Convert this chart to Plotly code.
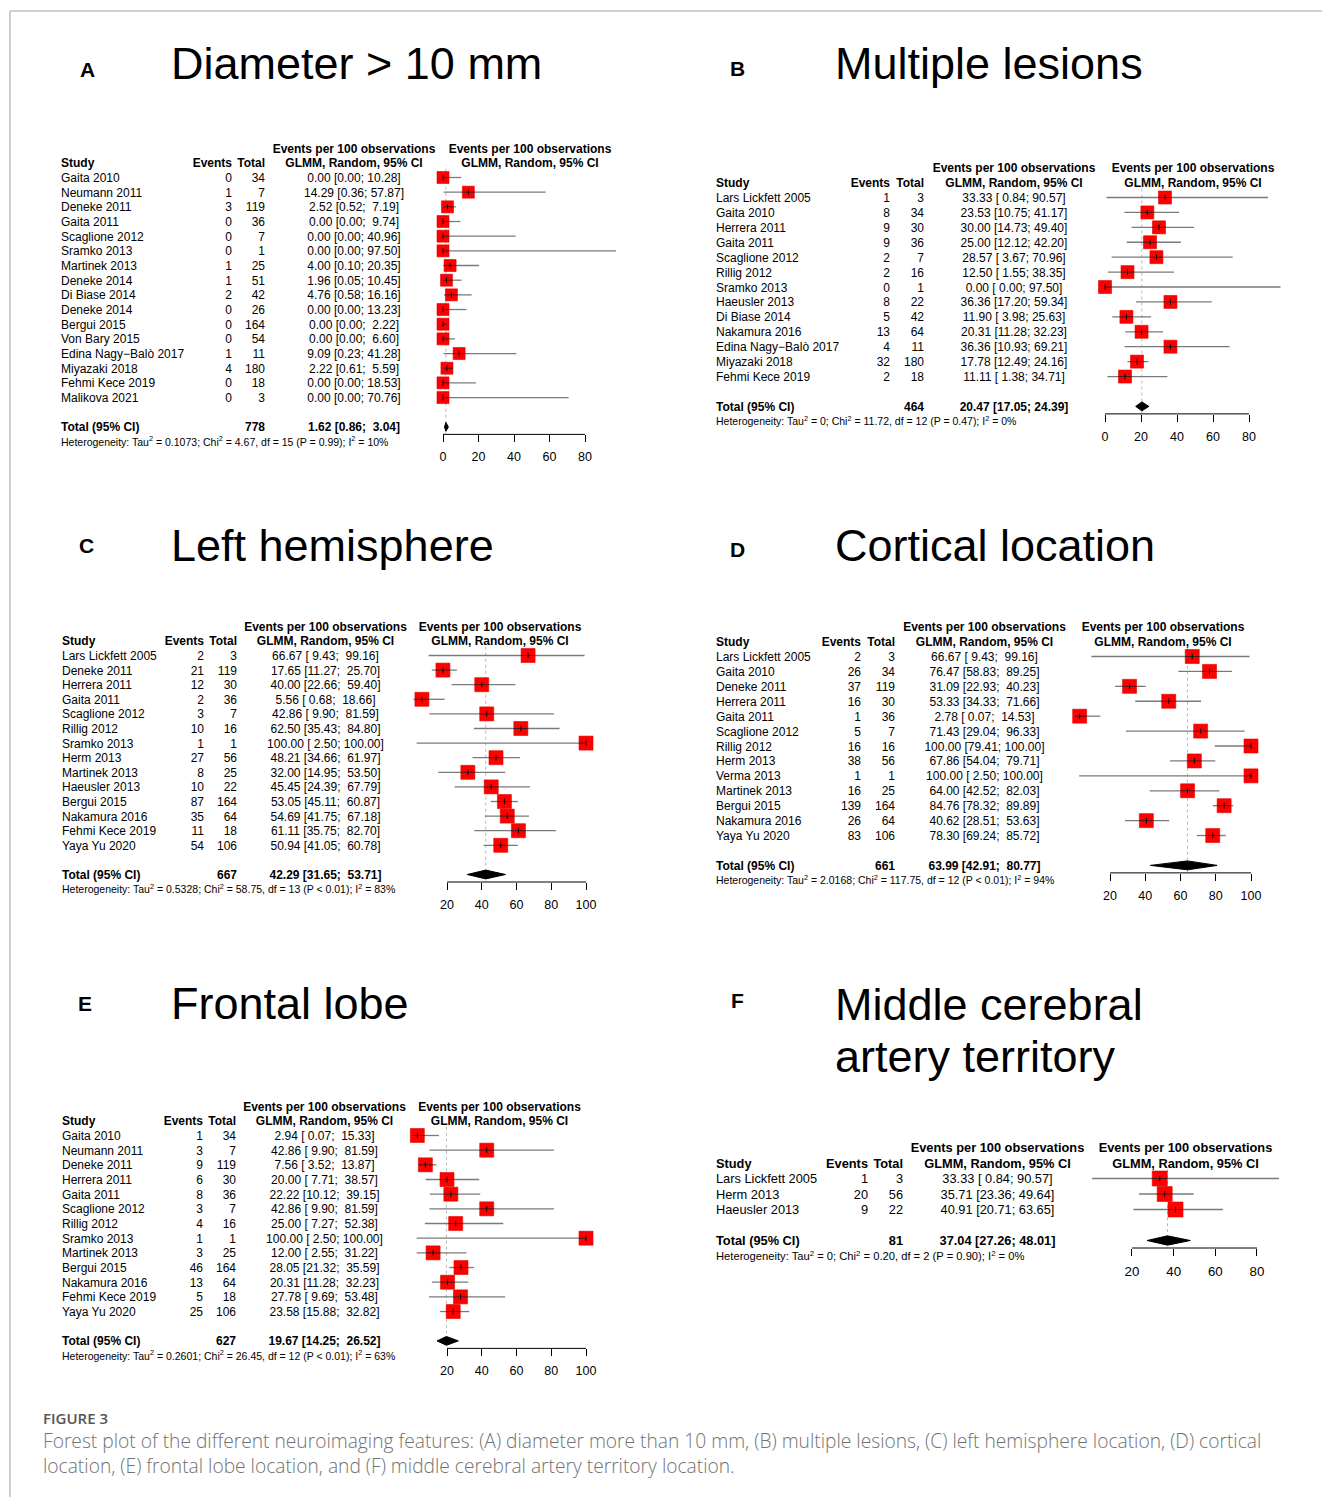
import plotly.graph_objects as go

W, H = 1322, 1497
NB = "\u00a0"
FONT = "Liberation Sans, Arial, Helvetica, sans-serif"

# ---------------- DATA ----------------
# Panel A - Diameter > 10 mm
A_title = ["Diameter > 10 mm"]
A_studies = ["Gaita 2010", "Neumann 2011", "Deneke 2011", "Gaita 2011", "Scaglione 2012", "Sramko 2013",
             "Martinek 2013", "Deneke 2014", "Di Biase 2014", "Deneke 2014", "Bergui 2015", "Von Bary 2015",
             "Edina Nagy\u2212Balò 2017", "Miyazaki 2018", "Fehmi Kece 2019", "Malikova 2021"]
A_events = [0, 1, 3, 0, 0, 0, 1, 1, 2, 0, 0, 0, 1, 4, 0, 0]
A_totals = [34, 7, 119, 36, 7, 1, 25, 51, 42, 26, 164, 54, 11, 180, 18, 3]
A_est = [0.00, 14.29, 2.52, 0.00, 0.00, 0.00, 4.00, 1.96, 4.76, 0.00, 0.00, 0.00, 9.09, 2.22, 0.00, 0.00]
A_lower = [0.00, 0.36, 0.52, 0.00, 0.00, 0.00, 0.10, 0.05, 0.58, 0.00, 0.00, 0.00, 0.23, 0.61, 0.00, 0.00]
A_upper = [10.28, 57.87, 7.19, 9.74, 40.96, 97.50, 20.35, 10.45, 16.16, 13.23, 2.22, 6.60, 41.28, 5.59, 18.53, 70.76]
A_pooled = [1.62, 0.86, 3.04]
A_n = 778
A_het = ["0.1073", "4.67", "15", "P = 0.99", "10"]
A_ticks = [0, 20, 40, 60, 80]

# Panel B - Multiple lesions
B_title = ["Multiple lesions"]
B_studies = ["Lars Lickfett 2005", "Gaita 2010", "Herrera 2011", "Gaita 2011", "Scaglione 2012", "Rillig 2012",
             "Sramko 2013", "Haeusler 2013", "Di Biase 2014", "Nakamura 2016", "Edina Nagy\u2212Balò 2017",
             "Miyazaki 2018", "Fehmi Kece 2019"]
B_events = [1, 8, 9, 9, 2, 2, 0, 8, 5, 13, 4, 32, 2]
B_totals = [3, 34, 30, 36, 7, 16, 1, 22, 42, 64, 11, 180, 18]
B_est = [33.33, 23.53, 30.00, 25.00, 28.57, 12.50, 0.00, 36.36, 11.90, 20.31, 36.36, 17.78, 11.11]
B_lower = [0.84, 10.75, 14.73, 12.12, 3.67, 1.55, 0.00, 17.20, 3.98, 11.28, 10.93, 12.49, 1.38]
B_upper = [90.57, 41.17, 49.40, 42.20, 70.96, 38.35, 97.50, 59.34, 25.63, 32.23, 69.21, 24.16, 34.71]
B_pooled = [20.47, 17.05, 24.39]
B_n = 464
B_het = ["0", "11.72", "12", "P = 0.47", "0"]
B_ticks = [0, 20, 40, 60, 80]

# Panel C - Left hemisphere
C_title = ["Left hemisphere"]
C_studies = ["Lars Lickfett 2005", "Deneke 2011", "Herrera 2011", "Gaita 2011", "Scaglione 2012", "Rillig 2012",
             "Sramko 2013", "Herm 2013", "Martinek 2013", "Haeusler 2013", "Bergui 2015", "Nakamura 2016",
             "Fehmi Kece 2019", "Yaya Yu 2020"]
C_events = [2, 21, 12, 2, 3, 10, 1, 27, 8, 10, 87, 35, 11, 54]
C_totals = [3, 119, 30, 36, 7, 16, 1, 56, 25, 22, 164, 64, 18, 106]
C_est = [66.67, 17.65, 40.00, 5.56, 42.86, 62.50, 100.00, 48.21, 32.00, 45.45, 53.05, 54.69, 61.11, 50.94]
C_lower = [9.43, 11.27, 22.66, 0.68, 9.90, 35.43, 2.50, 34.66, 14.95, 24.39, 45.11, 41.75, 35.75, 41.05]
C_upper = [99.16, 25.70, 59.40, 18.66, 81.59, 84.80, 100.00, 61.97, 53.50, 67.79, 60.87, 67.18, 82.70, 60.78]
C_pooled = [42.29, 31.65, 53.71]
C_n = 667
C_het = ["0.5328", "58.75", "13", "P < 0.01", "83"]
C_ticks = [20, 40, 60, 80, 100]

# Panel D - Cortical location
D_title = ["Cortical location"]
D_studies = ["Lars Lickfett 2005", "Gaita 2010", "Deneke 2011", "Herrera 2011", "Gaita 2011", "Scaglione 2012",
             "Rillig 2012", "Herm 2013", "Verma 2013", "Martinek 2013", "Bergui 2015", "Nakamura 2016",
             "Yaya Yu 2020"]
D_events = [2, 26, 37, 16, 1, 5, 16, 38, 1, 16, 139, 26, 83]
D_totals = [3, 34, 119, 30, 36, 7, 16, 56, 1, 25, 164, 64, 106]
D_est = [66.67, 76.47, 31.09, 53.33, 2.78, 71.43, 100.00, 67.86, 100.00, 64.00, 84.76, 40.62, 78.30]
D_lower = [9.43, 58.83, 22.93, 34.33, 0.07, 29.04, 79.41, 54.04, 2.50, 42.52, 78.32, 28.51, 69.24]
D_upper = [99.16, 89.25, 40.23, 71.66, 14.53, 96.33, 100.00, 79.71, 100.00, 82.03, 89.89, 53.63, 85.72]
D_pooled = [63.99, 42.91, 80.77]
D_n = 661
D_het = ["2.0168", "117.75", "12", "P < 0.01", "94"]
D_ticks = [20, 40, 60, 80, 100]

# Panel E - Frontal lobe
E_title = ["Frontal lobe"]
E_studies = ["Gaita 2010", "Neumann 2011", "Deneke 2011", "Herrera 2011", "Gaita 2011", "Scaglione 2012",
             "Rillig 2012", "Sramko 2013", "Martinek 2013", "Bergui 2015", "Nakamura 2016", "Fehmi Kece 2019",
             "Yaya Yu 2020"]
E_events = [1, 3, 9, 6, 8, 3, 4, 1, 3, 46, 13, 5, 25]
E_totals = [34, 7, 119, 30, 36, 7, 16, 1, 25, 164, 64, 18, 106]
E_est = [2.94, 42.86, 7.56, 20.00, 22.22, 42.86, 25.00, 100.00, 12.00, 28.05, 20.31, 27.78, 23.58]
E_lower = [0.07, 9.90, 3.52, 7.71, 10.12, 9.90, 7.27, 2.50, 2.55, 21.32, 11.28, 9.69, 15.88]
E_upper = [15.33, 81.59, 13.87, 38.57, 39.15, 81.59, 52.38, 100.00, 31.22, 35.59, 32.23, 53.48, 32.82]
E_pooled = [19.67, 14.25, 26.52]
E_n = 627
E_het = ["0.2601", "26.45", "12", "P < 0.01", "63"]
E_ticks = [20, 40, 60, 80, 100]

# Panel F - Middle cerebral artery territory
F_title = ["Middle cerebral", "artery territory"]
F_studies = ["Lars Lickfett 2005", "Herm 2013", "Haeusler 2013"]
F_events = [1, 20, 9]
F_totals = [3, 56, 22]
F_est = [33.33, 35.71, 40.91]
F_lower = [0.84, 23.36, 20.71]
F_upper = [90.57, 49.64, 63.65]
F_pooled = [37.04, 27.26, 48.01]
F_n = 81
F_het = ["0", "0.20", "2", "P = 0.90", "0"]
F_ticks = [20, 40, 60, 80]

CAPTION_HEAD = "FIGURE 3"
CAPTION_LINES = [
    "Forest plot of the different neuroimaging features: (A) diameter more than 10 mm, (B) multiple lesions, "
    "(C) left hemisphere location, (D) cortical",
    "location, (E) frontal lobe location, and (F) middle cerebral artery territory location.",
]

# ---------------- LAYOUT CONSTANTS (pixels) ----------------
panels = [
    dict(label="A", title=A_title, studies=A_studies, events=A_events, totals=A_totals, est=A_est,
         lo=A_lower, hi=A_upper, pooled=A_pooled, n_total=A_n, het=A_het, ticks=A_ticks,
         L=dict(region=(0, 661, 0, 480), label_xy=(87, 69), title_xy=[(169, 63)], y0=177.5, step=14.67,
                c_study=61, c_events=232, c_total=265, c_est=354, c_forest=530,
                x0=443, ppu=1.775, fs=12, fs_het=10.5, fs_tick=12.5, sq=12)),
    dict(label="B", title=B_title, studies=B_studies, events=B_events, totals=B_totals, est=B_est,
         lo=B_lower, hi=B_upper, pooled=B_pooled, n_total=B_n, het=B_het, ticks=B_ticks,
         L=dict(region=(661, 1322, 0, 480), label_xy=(737, 68), title_xy=[(833, 63)], y0=197.5, step=14.92,
                c_study=716, c_events=890, c_total=924, c_est=1014, c_forest=1193,
                x0=1105, ppu=1.8, fs=12, fs_het=10.5, fs_tick=12.5, sq=13)),
    dict(label="C", title=C_title, studies=C_studies, events=C_events, totals=C_totals, est=C_est,
         lo=C_lower, hi=C_upper, pooled=C_pooled, n_total=C_n, het=C_het, ticks=C_ticks,
         L=dict(region=(0, 661, 480, 960), label_xy=(86, 546), title_xy=[(169, 545)], y0=655.5, step=14.6,
                c_study=62, c_events=204, c_total=237, c_est=325.5, c_forest=500,
                x0=412.25, ppu=1.7375, fs=12, fs_het=10.5, fs_tick=12.5, sq=14)),
    dict(label="D", title=D_title, studies=D_studies, events=D_events, totals=D_totals, est=D_est,
         lo=D_lower, hi=D_upper, pooled=D_pooled, n_total=D_n, het=D_het, ticks=D_ticks,
         L=dict(region=(661, 1322, 480, 960), label_xy=(737, 549), title_xy=[(833, 545)], y0=656.5, step=14.92,
                c_study=716, c_events=861, c_total=895, c_est=984.5, c_forest=1163,
                x0=1074.75, ppu=1.7625, fs=12, fs_het=10.5, fs_tick=12.5, sq=14)),
    dict(label="E", title=E_title, studies=E_studies, events=E_events, totals=E_totals, est=E_est,
         lo=E_lower, hi=E_upper, pooled=E_pooled, n_total=E_n, het=E_het, ticks=E_ticks,
         L=dict(region=(0, 661, 960, 1390), label_xy=(85, 1003), title_xy=[(169, 1003)], y0=1135.5, step=14.67,
                c_study=62, c_events=203, c_total=236, c_est=324.5, c_forest=499.5,
                x0=412.25, ppu=1.7375, fs=12, fs_het=10.5, fs_tick=12.5, sq=14)),
    dict(label="F", title=F_title, studies=F_studies, events=F_events, totals=F_totals, est=F_est,
         lo=F_lower, hi=F_upper, pooled=F_pooled, n_total=F_n, het=F_het, ticks=F_ticks,
         L=dict(region=(661, 1322, 960, 1390), label_xy=(737, 1000), title_xy=[(833, 1004), (833, 1056)],
                y0=1178.5, step=15.5,
                c_study=716, c_events=868, c_total=903, c_est=997.5, c_forest=1185.5,
                x0=1090.3, ppu=2.0833, fs=12.8, fs_het=11.2, fs_tick=13.3, sq=15)),
]

TEXT_DY_PX = 1.5  # scatter text sits slightly high; nudge down


def fmt_ci(est, lo, hi, pooled):
    """Format 'est [lo; hi]' strings with R-meta style padding (non-breaking spaces)."""
    lo_all = [f"{v:.2f}" for v in list(lo) + [pooled[1]]]
    hi_all = [f"{v:.2f}" for v in list(hi) + [pooled[2]]]
    wl = max(len(s) for s in lo_all)
    wh = max(len(s) for s in hi_all)
    ests = list(est) + [pooled[0]]
    out = []
    for e, l, h in zip(ests, lo_all, hi_all):
        out.append(f"{e:.2f}{NB}[{l.rjust(wl, NB)};{NB}{h.rjust(wh, NB)}]")
    return out


fig = go.Figure()
layout_axes = {}
shapes = []
annotations = []

for k, P in enumerate(panels, start=1):
    L = P["L"]
    xa = "x" if k == 1 else f"x{k}"
    ya = "y" if k == 1 else f"y{k}"
    xkey = "xaxis" if k == 1 else f"xaxis{k}"
    ykey = "yaxis" if k == 1 else f"yaxis{k}"
    n = len(P["studies"])
    rows = list(range(n))
    r_total = n + 1
    r_het = n + 2
    y_total_px = L["y0"] + r_total * L["step"]
    axis_px = y_total_px + 7.5
    r_axis = (axis_px - L["y0"]) / L["step"]
    pe, pl, pu = P["pooled"]
    common = dict(xaxis=xa, yaxis=ya, hoverinfo="skip", showlegend=False)

    # reference (pooled) dotted line
    fig.add_trace(go.Scatter(x=[pe, pe], y=[-0.6, r_axis], mode="lines",
                             line=dict(color="#b8b8b8", width=1, dash="dot"), **common))
    # CI lines
    cx, cy = [], []
    for i in rows:
        cx += [P["lo"][i], P["hi"][i], None]
        cy += [i, i, None]
    fig.add_trace(go.Scatter(x=cx, y=cy, mode="lines", line=dict(color="#7a7a7a", width=1.3), **common))
    # squares
    fig.add_trace(go.Scatter(x=P["est"], y=rows, mode="markers",
                             marker=dict(symbol="square", size=L["sq"], color="#ff0000",
                                         line=dict(width=0.6, color="#e00000")), **common))
    # black CI part inside squares
    half = L["sq"] / 2 / L["ppu"]
    ix, iy = [], []
    for i in rows:
        a = max(P["lo"][i], P["est"][i] - half)
        b = min(P["hi"][i], P["est"][i] + half)
        ix += [a, b, None]
        iy += [i, i, None]
    fig.add_trace(go.Scatter(x=ix, y=iy, mode="lines", line=dict(color="#202020", width=0.9), **common))
    fig.add_trace(go.Scatter(x=P["est"], y=rows, mode="markers",
                             marker=dict(symbol="line-ns", size=4, line=dict(width=0.9, color="#000000")),
                             **common))
    # pooled diamond
    dh = 0.3
    fig.add_trace(go.Scatter(x=[pl, pe, pu, pe, pl],
                             y=[r_total, r_total - dh, r_total, r_total + dh, r_total],
                             mode="lines", fill="toself", fillcolor="#000000",
                             line=dict(color="#000000", width=1), **common))

    # table text
    def px2x(px):
        return (px - L["x0"]) / L["ppu"]

    dy = TEXT_DY_PX / L["step"]
    tx, ty, tt, tp, ts = [], [], [], [], []

    def add(px, row, text, pos, size):
        tx.append(px2x(px)); ty.append(row + dy); tt.append(text); tp.append(pos); ts.append(size)

    fs = L["fs"]
    add(L["c_est"], -2, "<b>Events per 100 observations</b>", "middle center", fs)
    add(L["c_forest"], -2, "<b>Events per 100 observations</b>", "middle center", fs)
    add(L["c_study"], -1, "<b>Study</b>", "middle right", fs)
    add(L["c_events"], -1, "<b>Events</b>", "middle left", fs)
    add(L["c_total"], -1, "<b>Total</b>", "middle left", fs)
    add(L["c_est"], -1, "<b>GLMM, Random, 95% CI</b>", "middle center", fs)
    add(L["c_forest"], -1, "<b>GLMM, Random, 95% CI</b>", "middle center", fs)
    ci_txt = fmt_ci(P["est"], P["lo"], P["hi"], P["pooled"])
    for i in rows:
        add(L["c_study"], i, P["studies"][i], "middle right", fs)
        add(L["c_events"], i, str(P["events"][i]), "middle left", fs)
        add(L["c_total"], i, str(P["totals"][i]), "middle left", fs)
        add(L["c_est"], i, ci_txt[i], "middle center", fs)
    add(L["c_study"], r_total, "<b>Total (95% CI)</b>", "middle right", fs)
    add(L["c_total"], r_total, f"<b>{P['n_total']}</b>", "middle left", fs)
    add(L["c_est"], r_total, f"<b>{ci_txt[-1]}</b>", "middle center", fs)
    tau2, chi2, df, pval, i2 = P["het"]
    het = (f"Heterogeneity: Tau<sup>2</sup> = {tau2}; Chi<sup>2</sup> = {chi2}, df = {df} ({pval}); "
           f"I<sup>2</sup> = {i2}%")
    add(L["c_study"], r_het, het, "middle right", L["fs_het"])
    fig.add_trace(go.Scatter(x=tx, y=ty, text=tt, mode="text", textposition=tp,
                             textfont=dict(family=FONT, size=ts, color="#000000"),
                             marker=dict(size=0), **common))

    # axes
    x_l, x_r, y_t, y_b = L["region"]
    layout_axes[xkey] = dict(
        domain=[x_l / W, x_r / W], range=[px2x(x_l), px2x(x_r)], anchor="free",
        position=1 - axis_px / H, tickmode="array", tickvals=P["ticks"],
        ticktext=[str(t) for t in P["ticks"]], ticks="outside", ticklen=7, tickwidth=1,
        tickcolor="#000000", showline=False, showgrid=False, zeroline=False,
        tickfont=dict(family=FONT, size=L["fs_tick"], color="#000000"),
        ticklabelstandoff=4, fixedrange=True)
    layout_axes[ykey] = dict(
        domain=[1 - y_b / H, 1 - y_t / H],
        range=[(y_b - L["y0"]) / L["step"], (y_t - L["y0"]) / L["step"]],
        visible=False, fixedrange=True)
    shapes.append(dict(type="line", xref=xa, yref="paper", x0=P["ticks"][0], x1=P["ticks"][-1],
                       y0=1 - axis_px / H, y1=1 - axis_px / H, line=dict(color="#000000", width=1)))

    # panel letter and title
    lx, ly = L["label_xy"]
    annotations.append(dict(text=f"<b>{P['label']}</b>", x=lx / W, y=1 - ly / H, xref="paper", yref="paper",
                            xanchor="center", yanchor="middle", showarrow=False,
                            font=dict(family=FONT, size=21, color="#000000")))
    for line_txt, (tx0, ty0) in zip(P["title"], L["title_xy"]):
        annotations.append(dict(text=line_txt, x=tx0 / W, y=1 - ty0 / H, xref="paper", yref="paper",
                                xanchor="left", yanchor="middle", showarrow=False,
                                font=dict(family=FONT, size=45, color="#000000")))

# caption
annotations.append(dict(text=CAPTION_HEAD, x=41 / W, y=1 - 1418 / H, xref="paper", yref="paper",
                        xanchor="left", yanchor="middle", showarrow=False,
                        font=dict(family="Open Sans, sans-serif", size=15, color="#555555", weight=600)))
annotations.append(dict(text="<br>".join(CAPTION_LINES), x=41 / W, y=1 - 1453 / H, xref="paper", yref="paper",
                        xanchor="left", yanchor="middle", align="left", showarrow=False,
                        font=dict(family="Open Sans, sans-serif", size=19.2, color="#727272", weight=300)))

# frame lines
shapes.append(dict(type="line", xref="paper", yref="paper", x0=10 / W, x1=10 / W, y0=0, y1=1 - 11 / H,
                   line=dict(color="#a0a0a0", width=1)))
shapes.append(dict(type="line", xref="paper", yref="paper", x0=10 / W, x1=1, y0=1 - 11 / H, y1=1 - 11 / H,
                   line=dict(color="#a0a0a0", width=1)))

fig.update_layout(width=W, height=H, autosize=False, margin=dict(l=0, r=0, t=0, b=0),
                  paper_bgcolor="#ffffff", plot_bgcolor="rgba(0,0,0,0)",
                  showlegend=False, shapes=shapes, annotations=annotations, **layout_axes)

fig.write_html("out.html", config={"displayModeBar": False})
